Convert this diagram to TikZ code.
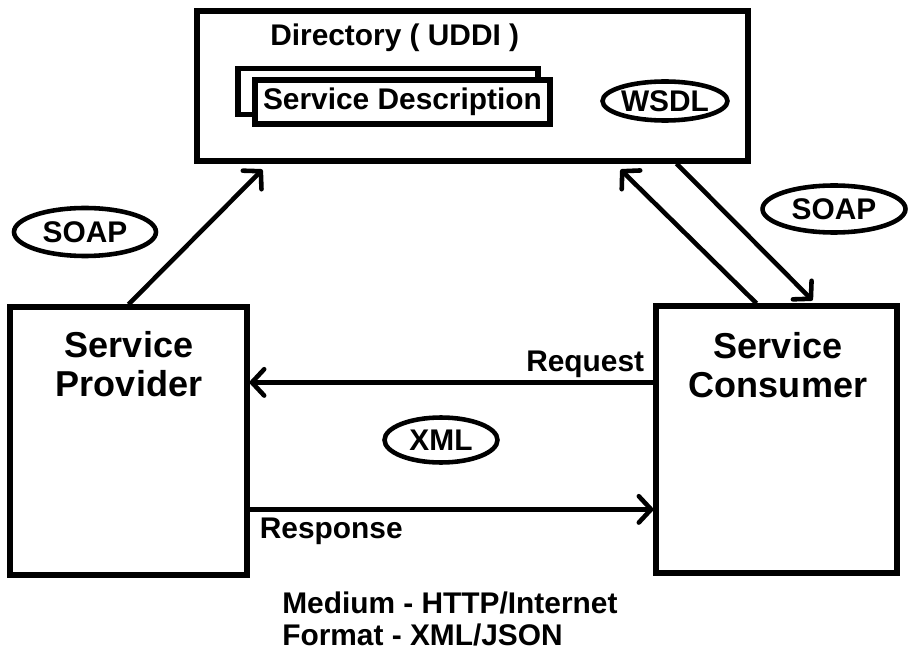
\documentclass[tikz,border=0pt]{standalone}
\usepackage{fontspec}
\setmainfont{Liberation Sans}
\usetikzlibrary{shapes.geometric,arrows.meta,calc}

\begin{document}
\begin{tikzpicture}[x=0.02cm, y=-0.02cm, line width=2.6pt, >={Straight Barb[length=7pt,width=15pt,round]}]
        \tikzstyle{every node}=[inner sep=0pt, font=\bfseries\fontsize{17}{18}\selectfont]
        \tikzstyle{box}=[draw, rectangle, line width=3pt]
        \tikzstyle{tag}=[draw, ellipse, line width=2.6pt]
        \tikzstyle{big}=[font=\bfseries\fontsize{20.5}{22}\selectfont, align=center, anchor=north]
        \useasboundingbox (0,0) rectangle (922,665);
        % directory
        \node [box, minimum width=11.02cm, minimum height=3cm] (dir) at (472.5,86) {};
        \node [anchor=base west] (dirlbl) at (268,46) {Directory ( UDDI )};
        \node [box, minimum width=6cm, minimum height=0.92cm] (sdback) at (388,91.5) {};
        \node [box, fill=white, minimum width=5.9cm, minimum height=0.88cm] (sd) at (402.5,102) {Service Description};
        \node [tag, minimum width=2.5cm, minimum height=0.78cm] (wsdl) at (665,101) {WSDL};
        % provider and consumer
        \node [box, minimum width=4.74cm, minimum height=5.36cm] (prov) at (128.5,441) {};
        \node [big] (provlbl) at (129,329) {Service\\Provider};
        \node [box, minimum width=4.82cm, minimum height=5.34cm] (cons) at (776.5,439.5) {};
        \node [big] (conslbl) at (778,330) {Service\\Consumer};
        \node [tag, minimum width=2.84cm, minimum height=0.96cm] (soapl) at (85,232) {SOAP};
        \node [tag, minimum width=2.86cm, minimum height=0.94cm] (soapr) at (834,209) {SOAP};
        \node [tag, minimum width=2.26cm, minimum height=0.9cm] (xml) at (441,440) {XML};
        % connectors
        \draw [->] (prov.north) -- ($(dir.south west)+(68,6)$);
        \draw [->] ($(cons.north)+(-20,0)$) -- ($(dir.south east)+(-130,6)$);
        \draw [->] ($(dir.south east)+(-74,0)$) -- ($(cons.north)+(36,-3)$);
        \draw [->] ($(cons.north west)+(0,79)$) coordinate (rq) -- (prov.east |- rq);
        \draw [->] ($(prov.north east)+(0,205)$) coordinate (rs) -- (cons.west |- rs);
        \node [anchor=base east] (reqlbl) at ($(rq)+(-7,-11)$) {Request};
        \node [anchor=base west] (reslbl) at ($(rs)+(8,29)$) {Response};
        % medium and format
        \node [anchor=base west] (medium) at (280,613) {Medium - HTTP/Internet};
        \node [anchor=base west] (format) at (280,645) {Format - XML/JSON};
    \end{tikzpicture}
\end{document}
